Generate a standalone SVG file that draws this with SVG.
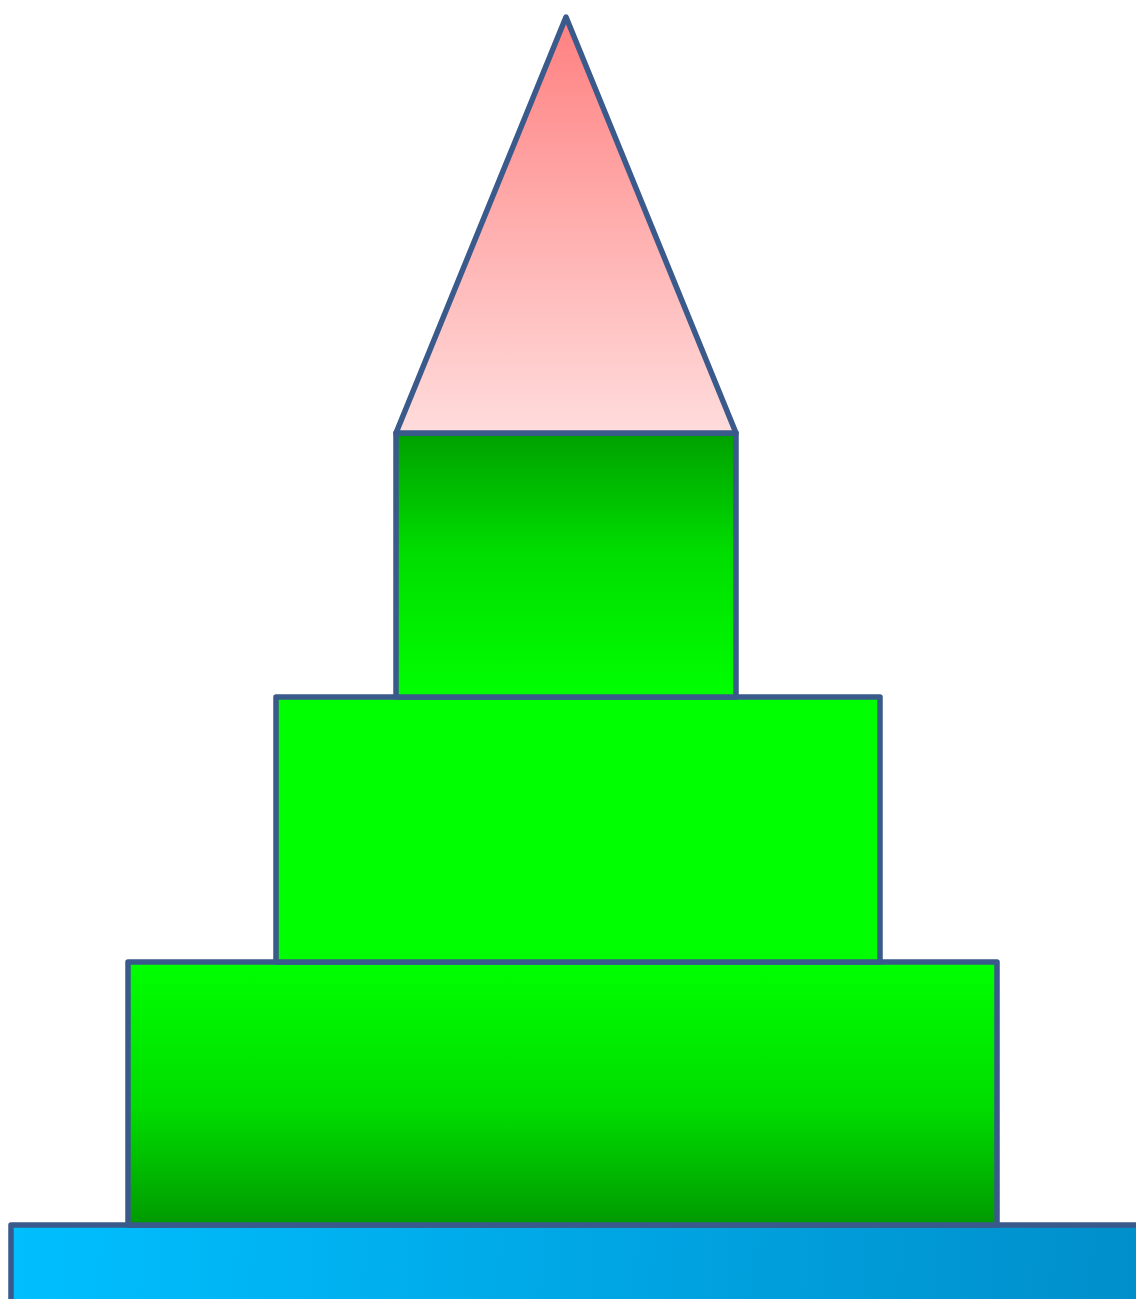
<svg xmlns="http://www.w3.org/2000/svg" width="1136" height="1299" viewBox="0 0 1136 1299">
<defs>
<linearGradient id="gRoof" x1="0" y1="0" x2="0" y2="1">
<stop offset="0" stop-color="#ff8080"/>
<stop offset="1" stop-color="#ffdcdc"/>
</linearGradient>
<linearGradient id="gTop" x1="0" y1="0" x2="0" y2="1">
<stop offset="0" stop-color="#00a000"/>
<stop offset="0.45" stop-color="#00dd00"/>
<stop offset="1" stop-color="#00ff00"/>
</linearGradient>
<linearGradient id="gBottom" x1="0" y1="0" x2="0" y2="1">
<stop offset="0" stop-color="#00ff00"/>
<stop offset="0.55" stop-color="#00dd00"/>
<stop offset="1" stop-color="#009a00"/>
</linearGradient>
<linearGradient id="gBase" x1="11" y1="1225" x2="1136" y2="1299" gradientUnits="userSpaceOnUse">
<stop offset="0" stop-color="#00bfff"/>
<stop offset="1" stop-color="#008fcb"/>
</linearGradient>
<style>
.s{stroke:#3a5a8c;stroke-width:5.5;stroke-linejoin:round}
</style>
</defs>
<g id="base"><rect class="s" x="11" y="1225" width="1140" height="90" fill="url(#gBase)"/></g>
<g id="tier3"><rect class="s" x="128" y="962" width="869" height="263" fill="url(#gBottom)"/></g>
<g id="tier2"><rect class="s" x="276" y="697" width="604" height="265" fill="#00ff00"/></g>
<g id="tier1"><rect class="s" x="396" y="433" width="340" height="264" fill="url(#gTop)"/></g>
<g id="roof"><polygon class="s" points="566,17 736,433 396,433" fill="url(#gRoof)"/></g>
<g id="connectors"/>
</svg>
